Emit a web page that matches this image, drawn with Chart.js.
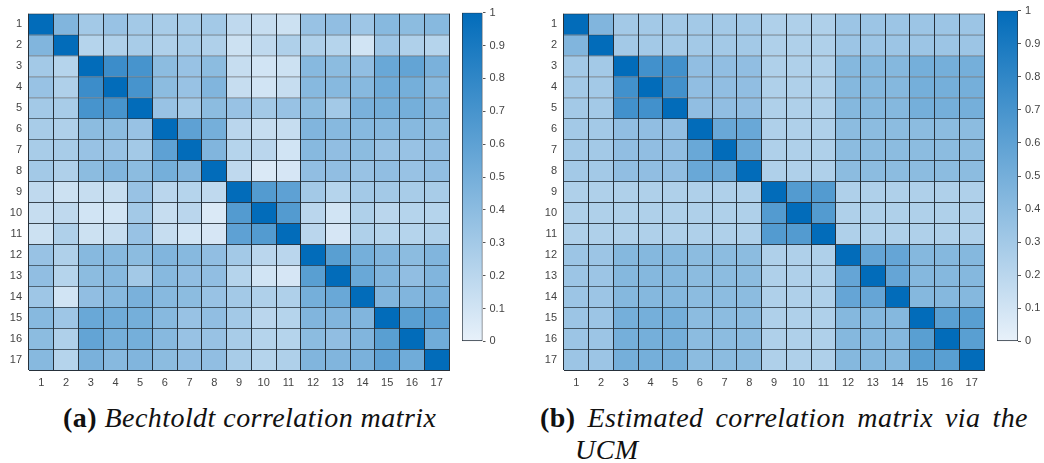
<!DOCTYPE html>
<html>
<head>
<meta charset="utf-8">
<script src="https://cdn.jsdelivr.net/npm/chart.js@4.4.1/dist/chart.umd.min.js"></script>
<style>
  html, body { margin: 0; padding: 0; background: #fff; width: 1044px; height: 463px; overflow: hidden; }
  canvas { position: absolute; }
  .cap { position: absolute; font-family: "Liberation Serif", "DejaVu Serif", serif; font-size: 28px; line-height: 32px; color: #111; letter-spacing: 0.45px; }
  .cap b { font-weight: bold; font-style: normal; }
  .cap i { font-style: italic; }
  #capA { left: 63px; top: 402px; white-space: nowrap; }
  #capB { left: 540px; top: 402px; width: 453px; padding-left: 35px; text-indent: -35px; text-align: justify; text-align-last: left; }
</style>
</head>
<body>
<canvas id="hmA" width="460" height="400" style="left:0px;top:0px"></canvas>
<canvas id="cbA" width="62" height="352" style="left:462px;top:0px"></canvas>
<canvas id="hmB" width="460" height="400" style="left:535px;top:0px"></canvas>
<canvas id="cbB" width="47" height="352" style="left:997px;top:0px"></canvas>
<div class="cap" id="capA"><b>(a)</b> <i>Bechtoldt correlation matrix</i></div>
<div class="cap" id="capB"><b>(b)</b> <i>Estimated correlation matrix via the UCM</i></div>
<script>
// Variable labels shared by both matrices
const varLabels = ['1','2','3','4','5','6','7','8','9','10','11','12','13','14','15','16','17'];

// Sample correlation matrix (Bechtoldt data)
const bechtoldt = [
  [1.00, 0.45, 0.30, 0.35, 0.30, 0.28, 0.28, 0.30, 0.18, 0.15, 0.12, 0.35, 0.38, 0.32, 0.42, 0.40, 0.42],
  [0.45, 1.00, 0.22, 0.25, 0.28, 0.25, 0.28, 0.25, 0.12, 0.18, 0.25, 0.25, 0.22, 0.10, 0.32, 0.25, 0.22],
  [0.30, 0.22, 1.00, 0.75, 0.70, 0.40, 0.35, 0.40, 0.15, 0.10, 0.12, 0.42, 0.40, 0.38, 0.55, 0.58, 0.48],
  [0.35, 0.25, 0.75, 1.00, 0.70, 0.40, 0.35, 0.45, 0.15, 0.10, 0.15, 0.42, 0.42, 0.42, 0.52, 0.50, 0.42],
  [0.30, 0.28, 0.70, 0.70, 1.00, 0.35, 0.30, 0.40, 0.35, 0.30, 0.35, 0.40, 0.30, 0.48, 0.50, 0.50, 0.45],
  [0.28, 0.25, 0.40, 0.40, 0.35, 1.00, 0.60, 0.50, 0.20, 0.15, 0.15, 0.45, 0.42, 0.42, 0.42, 0.42, 0.40],
  [0.28, 0.28, 0.35, 0.35, 0.30, 0.60, 1.00, 0.45, 0.22, 0.20, 0.10, 0.42, 0.38, 0.40, 0.35, 0.35, 0.38],
  [0.30, 0.25, 0.40, 0.45, 0.40, 0.50, 0.45, 1.00, 0.18, 0.06, 0.08, 0.38, 0.38, 0.35, 0.38, 0.35, 0.38],
  [0.18, 0.12, 0.15, 0.15, 0.35, 0.20, 0.22, 0.18, 1.00, 0.65, 0.60, 0.30, 0.22, 0.30, 0.30, 0.28, 0.28],
  [0.15, 0.18, 0.10, 0.10, 0.30, 0.15, 0.20, 0.06, 0.65, 1.00, 0.65, 0.20, 0.10, 0.25, 0.20, 0.22, 0.22],
  [0.12, 0.25, 0.12, 0.15, 0.35, 0.15, 0.10, 0.08, 0.60, 0.65, 1.00, 0.20, 0.08, 0.25, 0.22, 0.22, 0.25],
  [0.35, 0.25, 0.42, 0.42, 0.40, 0.45, 0.42, 0.38, 0.30, 0.20, 0.20, 1.00, 0.62, 0.50, 0.45, 0.40, 0.45],
  [0.38, 0.22, 0.40, 0.42, 0.30, 0.42, 0.38, 0.38, 0.22, 0.10, 0.08, 0.62, 1.00, 0.55, 0.45, 0.38, 0.45],
  [0.32, 0.10, 0.38, 0.42, 0.48, 0.42, 0.40, 0.35, 0.30, 0.25, 0.25, 0.50, 0.55, 1.00, 0.45, 0.45, 0.48],
  [0.42, 0.32, 0.55, 0.52, 0.50, 0.42, 0.35, 0.38, 0.30, 0.20, 0.22, 0.45, 0.45, 0.45, 1.00, 0.62, 0.60],
  [0.40, 0.25, 0.58, 0.50, 0.50, 0.42, 0.35, 0.35, 0.28, 0.22, 0.22, 0.40, 0.38, 0.45, 0.62, 1.00, 0.52],
  [0.42, 0.22, 0.48, 0.42, 0.45, 0.40, 0.38, 0.38, 0.28, 0.22, 0.25, 0.45, 0.45, 0.48, 0.60, 0.52, 1.00]
];

// Block-structured correlation matrix estimated with the UCM
const ucmEstimate = [
  [1.00, 0.45, 0.30, 0.30, 0.30, 0.30, 0.30, 0.30, 0.25, 0.25, 0.25, 0.33, 0.33, 0.33, 0.33, 0.33, 0.33],
  [0.45, 1.00, 0.30, 0.30, 0.30, 0.30, 0.30, 0.30, 0.25, 0.25, 0.25, 0.33, 0.33, 0.33, 0.33, 0.33, 0.33],
  [0.30, 0.30, 1.00, 0.72, 0.72, 0.38, 0.38, 0.38, 0.25, 0.25, 0.25, 0.43, 0.43, 0.43, 0.50, 0.50, 0.50],
  [0.30, 0.30, 0.72, 1.00, 0.72, 0.38, 0.38, 0.38, 0.25, 0.25, 0.25, 0.43, 0.43, 0.43, 0.50, 0.50, 0.50],
  [0.30, 0.30, 0.72, 0.72, 1.00, 0.38, 0.38, 0.38, 0.25, 0.25, 0.25, 0.43, 0.43, 0.43, 0.50, 0.50, 0.50],
  [0.30, 0.30, 0.38, 0.38, 0.38, 1.00, 0.55, 0.55, 0.25, 0.25, 0.25, 0.40, 0.40, 0.40, 0.40, 0.40, 0.40],
  [0.30, 0.30, 0.38, 0.38, 0.38, 0.55, 1.00, 0.55, 0.25, 0.25, 0.25, 0.40, 0.40, 0.40, 0.40, 0.40, 0.40],
  [0.30, 0.30, 0.38, 0.38, 0.38, 0.55, 0.55, 1.00, 0.25, 0.25, 0.25, 0.40, 0.40, 0.40, 0.40, 0.40, 0.40],
  [0.25, 0.25, 0.25, 0.25, 0.25, 0.25, 0.25, 0.25, 1.00, 0.65, 0.65, 0.25, 0.25, 0.25, 0.25, 0.25, 0.25],
  [0.25, 0.25, 0.25, 0.25, 0.25, 0.25, 0.25, 0.25, 0.65, 1.00, 0.65, 0.25, 0.25, 0.25, 0.25, 0.25, 0.25],
  [0.25, 0.25, 0.25, 0.25, 0.25, 0.25, 0.25, 0.25, 0.65, 0.65, 1.00, 0.25, 0.25, 0.25, 0.25, 0.25, 0.25],
  [0.33, 0.33, 0.43, 0.43, 0.43, 0.40, 0.40, 0.40, 0.25, 0.25, 0.25, 1.00, 0.57, 0.57, 0.43, 0.43, 0.43],
  [0.33, 0.33, 0.43, 0.43, 0.43, 0.40, 0.40, 0.40, 0.25, 0.25, 0.25, 0.57, 1.00, 0.57, 0.43, 0.43, 0.43],
  [0.33, 0.33, 0.43, 0.43, 0.43, 0.40, 0.40, 0.40, 0.25, 0.25, 0.25, 0.57, 0.57, 1.00, 0.43, 0.43, 0.43],
  [0.33, 0.33, 0.50, 0.50, 0.50, 0.40, 0.40, 0.40, 0.25, 0.25, 0.25, 0.43, 0.43, 0.43, 1.00, 0.62, 0.62],
  [0.33, 0.33, 0.50, 0.50, 0.50, 0.40, 0.40, 0.40, 0.25, 0.25, 0.25, 0.43, 0.43, 0.43, 0.62, 1.00, 0.62],
  [0.33, 0.33, 0.50, 0.50, 0.50, 0.40, 0.40, 0.40, 0.25, 0.25, 0.25, 0.43, 0.43, 0.43, 0.62, 0.62, 1.00]
];

// Colour bar ticks
const cbTickValues = [0, 0.1, 0.2, 0.3, 0.4, 0.5, 0.6, 0.7, 0.8, 0.9, 1];
const cbTickLabels = ['0', '0.1', '0.2', '0.3', '0.4', '0.5', '0.6', '0.7', '0.8', '0.9', '1'];

// Colormap end points (value 0 -> light, value 1 -> dark blue)
const cmapLow = [232, 241, 250];
const cmapHigh = [2, 108, 186];

const gridColor = '#26303a';
const tickColor = '#444444';
const tickFont = { family: '"Liberation Sans", Arial, Helvetica, sans-serif', size: 11 };

function shade(v) {
  const t = Math.max(0, Math.min(1, v));
  const c = cmapLow.map((lo, k) => Math.round(lo + (cmapHigh[k] - lo) * t));
  return `rgb(${c[0]},${c[1]},${c[2]})`;
}

function heatmap(id, matrix, padTop) {
  // one floating-bar dataset per matrix row; each bar spans one row band,
  // its top border gives the horizontal cell edge
  const datasets = matrix.map((row, r) => ({
    data: row.map(() => [r + 0.5, r + 1.5]),
    backgroundColor: row.map(shade),
    borderColor: gridColor,
    borderWidth: { top: 1, right: 0, bottom: 0, left: 0 },
    borderSkipped: false,
    barPercentage: 1,
    categoryPercentage: 1,
    grouped: false
  }));
  return new Chart(document.getElementById(id), {
    type: 'bar',
    data: { labels: varLabels, datasets },
    options: {
      responsive: false,
      animation: false,
      devicePixelRatio: 1,
      layout: { padding: { top: padTop, right: 11, bottom: 0, left: 0 } },
      plugins: { legend: { display: false }, tooltip: { enabled: false } },
      scales: {
        x: {
          type: 'category',
          offset: true,
          // vertical cell edges drawn above the bars
          grid: { offset: true, color: gridColor, lineWidth: 1, drawTicks: false, z: 1 },
          border: { display: true, color: gridColor, z: 1 },
          ticks: { color: tickColor, font: tickFont, padding: 6, maxRotation: 0, autoSkip: false },
          afterFit: s => { s.height = 30; }
        },
        y: {
          type: 'linear',
          position: 'left',
          reverse: true,
          min: 0.5,
          max: varLabels.length + 0.5,
          afterBuildTicks: s => { s.ticks = varLabels.map((_, i) => ({ value: i + 1 })); },
          ticks: { color: tickColor, font: tickFont, padding: 7, callback: (v, i) => varLabels[i] },
          grid: { display: false, drawTicks: false },
          border: { display: false },
          afterFit: s => { s.width = 29; }
        }
      }
    }
  });
}

function colorbar(id, padTop, axisWidth) {
  const canvas = document.getElementById(id);
  return new Chart(canvas, {
    type: 'bar',
    data: {
      labels: [''],
      datasets: [{
        data: [[0, 1]],
        backgroundColor: ctx => {
          const area = ctx.chart.chartArea;
          if (!area) return shade(1);
          const g = ctx.chart.ctx.createLinearGradient(0, area.bottom, 0, area.top);
          g.addColorStop(0, shade(0));
          g.addColorStop(1, shade(1));
          return g;
        },
        borderColor: gridColor,
        borderWidth: 1,
        borderSkipped: false,
        barPercentage: 1,
        categoryPercentage: 1
      }]
    },
    options: {
      responsive: false,
      animation: false,
      devicePixelRatio: 1,
      layout: { padding: { top: padTop, bottom: canvas.height - 342, left: 0, right: 0 } },
      plugins: { legend: { display: false }, tooltip: { enabled: false } },
      scales: {
        x: { display: false },
        y: {
          position: 'right',
          min: 0,
          max: 1,
          afterBuildTicks: s => { s.ticks = cbTickValues.map(v => ({ value: v })); },
          ticks: { color: tickColor, font: tickFont, padding: 4, callback: (v, i) => cbTickLabels[i] },
          grid: { drawOnChartArea: false, drawTicks: true, tickLength: 3, color: '#555555' },
          border: { display: false },
          afterFit: s => { s.width = axisWidth; }
        }
      }
    }
  });
}

heatmap('hmA', bechtoldt, 12.7);
colorbar('cbA', 12.7, 62 - 20.5);
heatmap('hmB', ucmEstimate, 10.7);
colorbar('cbB', 10.7, 47 - 21);
</script>
</body>
</html>
